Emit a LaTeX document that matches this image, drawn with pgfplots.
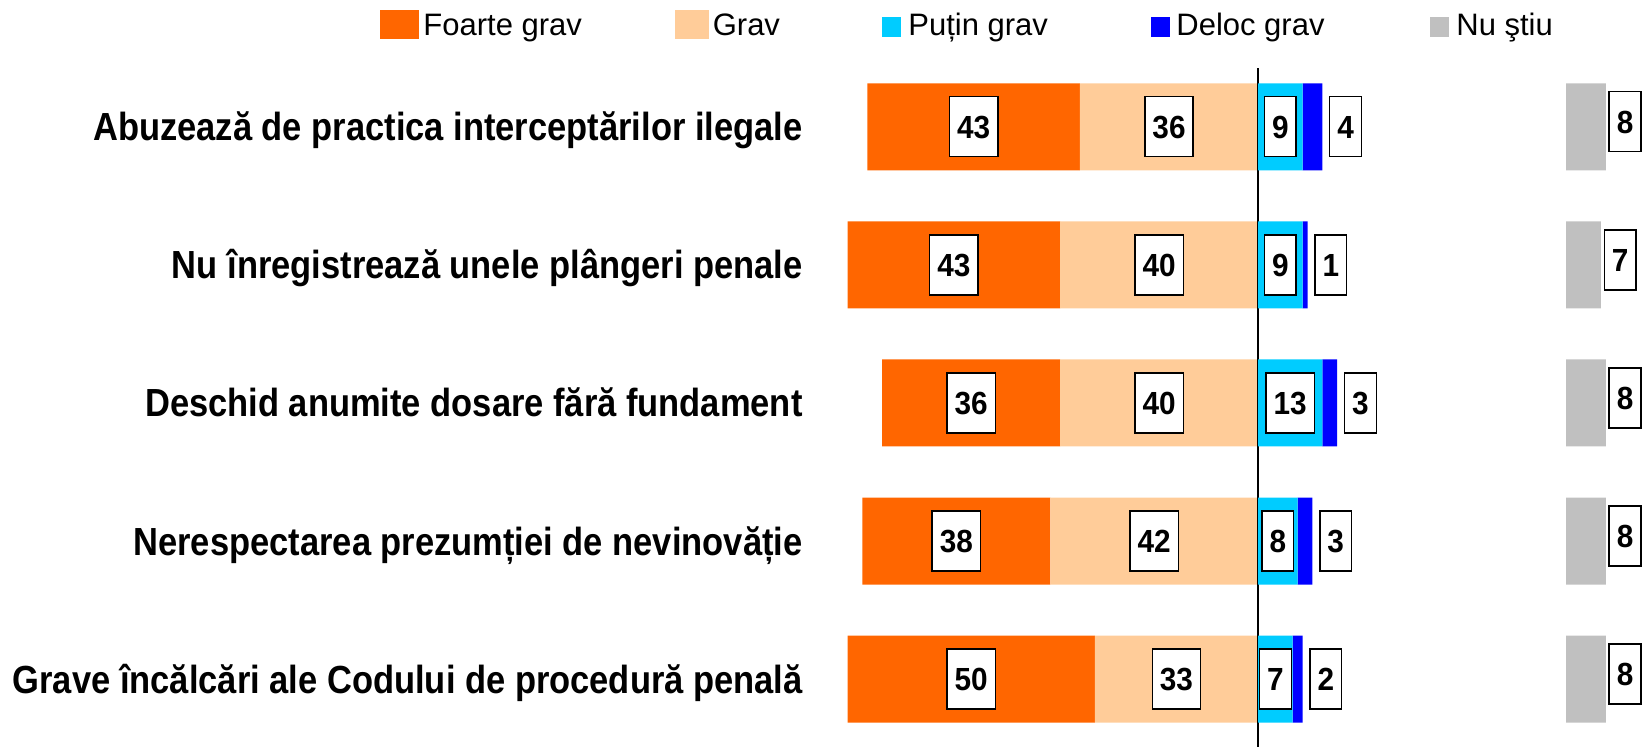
\documentclass[border=0pt]{standalone}
\usepackage{fontspec}
\setmainfont{Liberation Sans}
\newfontfamily\labfont[FakeStretch=0.88]{Liberation Sans}
\newfontfamily\numfont[FakeStretch=0.93]{Liberation Sans}
\usepackage{pgfplots}
\usepackage{pgfplotstable}
\pgfplotsset{compat=1.18}
\definecolor{cFoarte}{HTML}{FF6600}
\definecolor{cGrav}{HTML}{FFCC99}
\definecolor{cPutin}{HTML}{00CCFF}
\definecolor{cDeloc}{HTML}{0000FF}
\definecolor{cNu}{HTML}{C0C0C0}

% y: 5 = top row
\pgfplotstableread{
y fg g pg dg ns
5 43 36 9 4 8
4 43 40 9 1 7
3 36 40 13 3 8
2 38 42 8 3 8
1 50 33 7 2 8
}\data

\tikzset{boxlab/.style={draw=black, line width=0.7pt, fill=white, inner xsep=3.8pt, inner ysep=0pt,
  minimum height=30pt, text height=11.5pt, text depth=0pt,
  font=\numfont\bfseries\fontsize{16}{18}\selectfont}}

\pgfplotsset{
  panel/.style={
    scale only axis, width=425.36pt, height=345.25pt,
    anchor=south west, at={(401.5pt,-0.625pt)},
    ymin=0.5, ymax=5.5,
    axis lines=left, axis line style={draw=none},
    xtick=\empty, ytick=\empty, major tick length=0pt,
    bar width=43.5pt,
    clip=false,
    /pgf/number format/assume math mode=true,
  },
  lab/.style={only marks, mark=text, text mark={}, mark options={draw=none, fill=none},
    point meta=explicit, nodes near coords, nodes near coords align={center},
    every node near coord/.style={boxlab, anchor=center, #1}},
  lab/.default={},
}

\begin{document}
\begin{tikzpicture}
\path[use as bounding box] (0,0) rectangle (821.5pt,373.5pt);

% left side bars: Grav, then Foarte grav
\begin{axis}[panel, xbar stacked, xmin=-92, xmax=80,
    ytick={1,2,3,4,5},
    yticklabels={Grave încălcări ale Codului de procedură penală,
      Nerespectarea prezumției de nevinovăție,
      Deschid anumite dosare fără fundament,
      Nu înregistrează unele plângeri penale,
      Abuzează de practica interceptărilor ilegale},
    yticklabel style={font=\labfont\bfseries\fontsize{19.6}{22}\selectfont,
      inner sep=0pt, text height=14pt, text depth=0pt, anchor=east}]
  \addplot[fill=cGrav, draw=none] table[y=y, x expr=-\thisrow{g}] {\data};
  \addplot[fill=cFoarte, draw=none] table[y=y, x expr=-\thisrow{fg}] {\data};
\end{axis}

% right side bars: Putin grav, then Deloc grav
\begin{axis}[panel, xbar stacked, xmin=-92, xmax=80]
  \addplot[fill=cPutin, draw=none] table[y=y, x=pg] {\data};
  \addplot[fill=cDeloc, draw=none] table[y=y, x=dg] {\data};
  \draw[line width=0.8pt] (axis cs:0,0.49) -- (axis cs:0,5.426);
\end{axis}

% value boxes, centred in their segments (Deloc grav outside the bar end)
\begin{axis}[panel, xmin=-92, xmax=80]
  \addplot[lab] table[y=y, x expr=-\thisrow{g}/2, meta=g] {\data};
  \addplot[lab] table[y=y, x expr=-\thisrow{g}-\thisrow{fg}/2, meta=fg] {\data};
  \addplot[lab] table[y=y, x expr=\thisrow{pg}/2, meta=pg] {\data};
  \addplot[lab={xshift=11.65pt}] table[y=y, x expr=\thisrow{pg}+\thisrow{dg}, meta=dg] {\data};
\end{axis}

% Nu stiu, separate column
\begin{axis}[panel, xmin=-154.3, xmax=17.7]
  \addplot[xbar, fill=cNu, draw=none] table[y=y, x=ns] {\data};
  \addplot[lab={xshift=9.65pt, yshift=2.5pt}] table[y=y, x=ns, meta=ns] {\data};
\end{axis}

% legend
\begin{scope}[font=\fontsize{15.5}{18}\selectfont]
  \fill[cFoarte] (190pt,353.85pt) rectangle (209.5pt,368.5pt);
  \node[anchor=base west, inner sep=0pt] at (211.5pt,355.65pt) {Foarte grav};
  \fill[cGrav] (337.5pt,353.85pt) rectangle (354.5pt,368.5pt);
  \node[anchor=base west, inner sep=0pt] at (356.2pt,355.65pt) {Grav};
  \fill[cPutin] (440.9pt,355.15pt) rectangle (450.5pt,364.85pt);
  \node[anchor=base west, inner sep=0pt] at (454pt,355.65pt) {Puțin grav};
  \fill[cDeloc] (575.5pt,355.15pt) rectangle (585pt,364.85pt);
  \node[anchor=base west, inner sep=0pt] at (588pt,355.65pt) {Deloc grav};
  \fill[cNu] (715pt,355.15pt) rectangle (724.7pt,364.85pt);
  \node[anchor=base west, inner sep=0pt] at (728pt,355.65pt) {Nu ştiu};
\end{scope}
\end{tikzpicture}
\end{document}
